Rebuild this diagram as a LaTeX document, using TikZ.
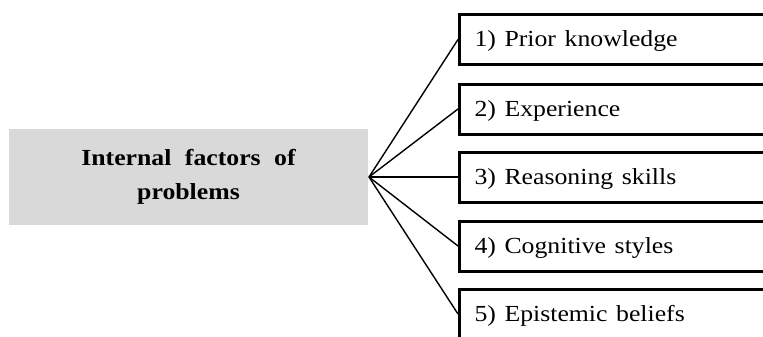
\documentclass[tikz,border=0pt]{standalone}
\usepackage{fontspec}
\setmainfont{Liberation Serif}
% slightly widened lettering
\newcommand{\widetext}[1]{\scalebox{1.12}[1]{#1}}
% bold heading with generous word spaces
\newcommand{\headtext}[1]{\scalebox{1.12}[1]{\spaceskip=12pt plus 1pt\relax #1}}
\begin{document}
\begin{tikzpicture}[x=1pt,y=-1pt,
  factorbox/.style={draw=black, line width=3pt, rectangle, anchor=west,
    minimum height=50pt, text width=300pt, inner xsep=15pt, align=left,
    text height=20pt, text depth=5pt,
    font=\fontsize{23}{27}\selectfont},
  mainbox/.style={fill=black!15, rectangle, minimum width=359pt,
    minimum height=96pt, align=center, inner sep=0pt,
    font=\fontsize{23}{34}\selectfont\bfseries},
  link/.style={draw=black, line width=1.4pt}]
\useasboundingbox (0,0) rectangle (763,337);
\clip (0,0) rectangle (763,337);
\fill[white] (0,0) rectangle (763,337);

% central topic
\node[mainbox] (main) at (188.5,177) {\headtext{Internal factors of}\\\headtext{problems}};
\coordinate (hub) at (369,177);

% factor boxes
\node[factorbox] (f1) at (458,39.5) {\widetext{1) Prior knowledge}};
\node[factorbox] (f2) at (458,109) {\widetext{2) Experience}};
\node[factorbox] (f3) at (458,177) {\widetext{3) Reasoning skills}};
\node[factorbox] (f4) at (458,246) {\widetext{4) Cognitive styles}};
\node[factorbox] (f5) at (458,314) {\widetext{5) Epistemic beliefs}};

% connectors
\foreach \f in {f1,f2,f3,f4,f5}
  \draw[link] (hub) -- (\f.west);
\end{tikzpicture}
\end{document}
